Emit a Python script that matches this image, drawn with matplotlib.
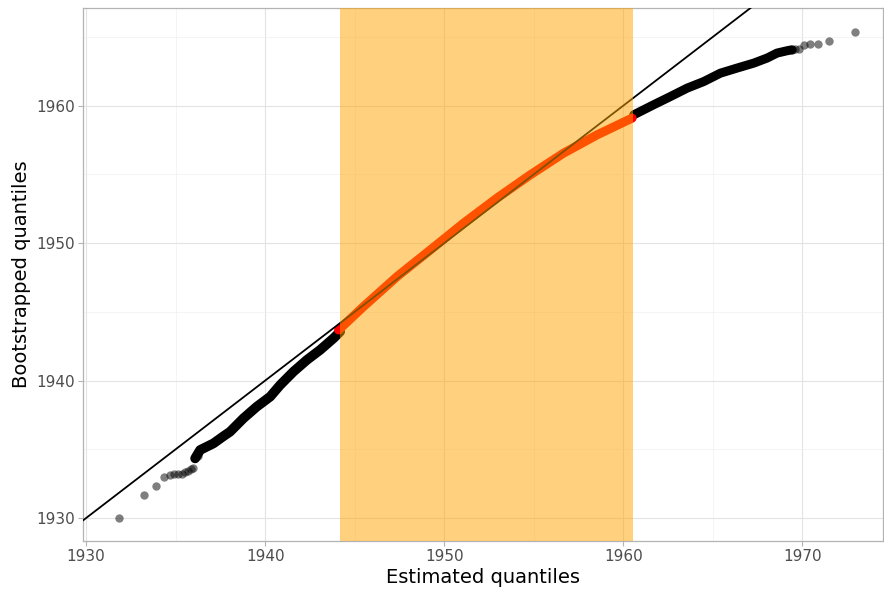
import matplotlib.pyplot as plt
from matplotlib.ticker import MultipleLocator

##############################################################################################################################
# data

# isolated lower tail points
tail_lo_x = [1931.84, 1933.24, 1933.91, 1934.34, 1934.69, 1934.93, 1935.16, 1935.36, 1935.55, 1935.72, 1935.87, 1935.98,
             1936.09, 1936.25]
tail_lo_y = [1930.00, 1931.65, 1932.35, 1933.00, 1933.15, 1933.18, 1933.18, 1933.23, 1933.33, 1933.45, 1933.57, 1933.66,
             1934.34, 1934.50]

# dense part below the interval
low_x = [1936.09, 1936.37, 1937.11, 1937.67, 1938.04, 1938.79, 1939.53, 1940.28, 1940.84, 1941.58, 1942.33, 1943.07,
         1943.82, 1944.19]
low_y = [1934.34, 1934.95, 1935.43, 1935.95, 1936.28, 1937.26, 1938.10, 1938.83, 1939.68, 1940.65, 1941.50, 1942.23,
         1943.08, 1943.56]

# dense part inside the interval
mid_x = [1944.10, 1945.49, 1947.36, 1949.22, 1950.15, 1951.08, 1952.94, 1954.80, 1956.66, 1958.53, 1960.49]
mid_y = [1943.68, 1945.38, 1947.56, 1949.50, 1950.47, 1951.45, 1953.27, 1954.96, 1956.54, 1957.87, 1959.09]

# dense part above the interval
high_x = [1960.58, 1961.69, 1962.63, 1963.56, 1964.49, 1965.42, 1966.35, 1967.28, 1968.03, 1968.58, 1969.14, 1969.42]
high_y = [1959.33, 1960.06, 1960.66, 1961.27, 1961.75, 1962.36, 1962.73, 1963.09, 1963.46, 1963.82, 1963.99, 1964.06]

# isolated upper tail points
tail_hi_x = [1969.42, 1969.61, 1969.83, 1970.07, 1970.41, 1970.85, 1971.51, 1972.94]
tail_hi_y = [1964.06, 1964.11, 1964.11, 1964.42, 1964.47, 1964.47, 1964.67, 1965.37]

# highlighted interval
interval = (1944.2, 1960.55)

##############################################################################################################################
# plot data

fig = plt.figure(figsize=(8.84, 5.92), dpi=100)
ax = fig.add_axes([0.0939, 0.0861, 0.905, 0.9004])

xlim = (1929.83, 1974.5)
ylim = (1928.33, 1967.1)

# reference line y = x
ax.plot(xlim, xlim, color='black', lw=1.3, zorder=3)

# dense quantile curve
ax.plot(low_x, low_y, color='black', lw=7, solid_capstyle='round', zorder=2)
ax.plot(high_x, high_y, color='black', lw=6.5, solid_capstyle='round', zorder=2)
ax.plot(mid_x, mid_y, color='red', lw=6.5, solid_capstyle='round', zorder=2.5)

# isolated points
ax.scatter(tail_lo_x, tail_lo_y, s=36, color='black', alpha=0.5, lw=0, zorder=2)
ax.scatter(tail_hi_x, tail_hi_y, s=36, color='black', alpha=0.5, lw=0, zorder=2)

# interval shading on top
ax.axvspan(interval[0], interval[1], color='orange', alpha=0.5, lw=0, zorder=4)

ax.set_xlim(*xlim)
ax.set_ylim(*ylim)

# labels
ax.set_xlabel('Estimated quantiles', fontsize=14, labelpad=3)
ax.set_ylabel('Bootstrapped quantiles', fontsize=14, labelpad=4)

# ticks and grid
ax.xaxis.set_major_locator(MultipleLocator(10))
ax.yaxis.set_major_locator(MultipleLocator(10))
ax.xaxis.set_minor_locator(MultipleLocator(5))
ax.yaxis.set_minor_locator(MultipleLocator(5))
ax.tick_params(which='major', length=3.5, width=0.8, color='#B3B3B3', labelcolor='#4D4D4D', labelsize=11, pad=2)
ax.tick_params(which='minor', length=0)
ax.grid(which='major', color='#E3E3E3', lw=0.8, zorder=0)
ax.grid(which='minor', color='#F0F0F0', lw=0.5, zorder=0)
ax.set_axisbelow(True)

for sp in ax.spines.values():
    sp.set_color('#B3B3B3')
    sp.set_linewidth(0.9)

fig.savefig('out.png', dpi=100)
